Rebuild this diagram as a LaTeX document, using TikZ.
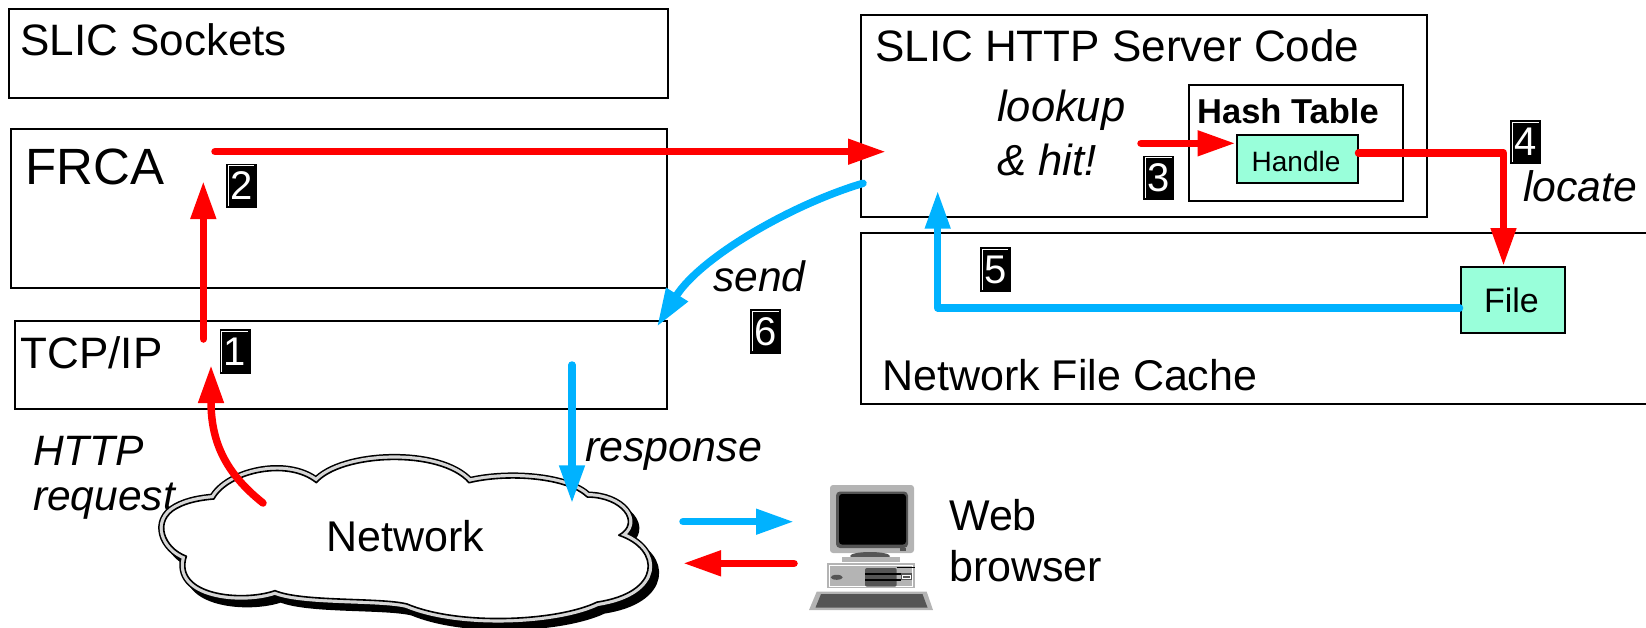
\documentclass[tikz,border=0pt]{standalone}
\usepackage{fontspec}
\setmainfont{Liberation Sans}
\usetikzlibrary{arrows.meta}

\definecolor{flowred}{RGB}{255,0,0}
\definecolor{flowblue}{RGB}{0,178,255}
\definecolor{mint}{RGB}{153,255,218}
\definecolor{pcgray}{RGB}{180,180,180}
\definecolor{pcdark}{RGB}{85,85,85}
\definecolor{cloudgray}{RGB}{214,214,214}

% numbered step marker: black block, white digit, thin white inner edge
\newcommand\numbadge[3]{%
  \node[badge] (#1) at (#2) {#3};
  \draw[white, line width=0.9pt]
    ([xshift=2.5pt,yshift=2.5pt]#1.south west) |- ([xshift=-2.5pt,yshift=-2.5pt]#1.north east);
}

\begin{document}
\begin{tikzpicture}[x=1pt, y=-1pt,
  box/.style={draw=black, line width=2pt, inner sep=0pt, anchor=north west},
  lbl/.style={anchor=base west, inner sep=0pt, font=\fontsize{42.5}{50}\selectfont},
  ilbl/.style={anchor=base west, inner sep=0pt, font=\fontsize{42.5}{50}\selectfont\itshape},
  badge/.style={fill=black, minimum width=31pt, minimum height=44.5pt, inner sep=0pt,
                text=white, font=\fontsize{40}{40}\selectfont},
  flow/.style={line width=7.5pt, line cap=round, line join=round,
               -{Triangle[length=38pt,width=24pt]}},
  fillbox/.style={box, fill=mint}
]
\useasboundingbox (0,0) rectangle (1646,627);

% ---------- left-hand stack ----------
\node[box, minimum width=659pt, minimum height=89pt] (sockets) at (7.6,8.3) {};
\node[lbl, font=\fontsize{44}{50}\selectfont] (socketsT) at (20,55) {SLIC Sockets};

\node[box, minimum width=656pt, minimum height=159pt] (frca) at (10,128) {};
\node[lbl, font=\fontsize{51}{60}\selectfont] (frcaT) at (25,184) {FRCA};

\node[box, minimum width=652pt, minimum height=87.5pt] (tcp) at (14,320) {};
\node[lbl, font=\fontsize{44}{50}\selectfont] (tcpT) at (20.5,368.3) {TCP/IP};

% ---------- server side ----------
\node[box, minimum width=566.5pt, minimum height=201.5pt] (server) at (859.5,14) {};
\node[lbl, font=\fontsize{44}{50}\selectfont] (serverT) at (875,61.7) {SLIC HTTP Server Code};
\node[ilbl, font=\fontsize{43.5}{50}\selectfont\itshape] (lookT) at (997,121) {lookup};
\node[ilbl, font=\fontsize{43.5}{50}\selectfont\itshape] (hitT) at (997,175) {\& hit!};

\node[box, minimum width=214pt, minimum height=116pt] (hash) at (1188,84) {};
\node[lbl, font=\fontsize{34.5}{40}\selectfont\bfseries] (hashT) at (1197,123.3) {Hash Table};
\node[fillbox, minimum width=121pt, minimum height=48.5pt] (handle) at (1235.5,133.5) {};
\node[font=\fontsize{28}{32}\selectfont, inner sep=0pt, anchor=base] (handleT) at (1296,171) {Handle};

\node[box, minimum width=800pt, minimum height=171pt] (cache) at (859.5,232) {};
\node[lbl, font=\fontsize{43}{50}\selectfont] (cacheT) at (882,390.7) {Network File Cache};
\node[fillbox, minimum width=104.5pt, minimum height=66pt] (file) at (1459.5,266) {};
\node[font=\fontsize{34}{40}\selectfont, inner sep=0pt, anchor=base] (fileT) at (1511.5,312.7) {File};
\node[ilbl, font=\fontsize{42.7}{50}\selectfont\itshape] (locateT) at (1523,201.7) {locate};

% ---------- free labels ----------
\node[ilbl] (httpT) at (33,465) {HTTP};
\node[ilbl] (reqT) at (33,510) {request};
\node[ilbl, font=\fontsize{43}{50}\selectfont\itshape] (respT) at (585,461.7) {response};
\node[ilbl] (sendT) at (713,291.7) {send};
\node[lbl, font=\fontsize{43}{50}\selectfont] (webT) at (949,530) {Web};
\node[lbl, font=\fontsize{43}{50}\selectfont] (browserT) at (949,581) {browser};

% ---------- network cloud ----------
\def\cloudpath{(173,507) .. controls (185,500) and (200,498) .. (211,497)
  .. controls (225,470) and (285,455) .. (315,480)
  .. controls (340,450) and (440,445) .. (470,480)
  .. controls (510,470) and (570,475) .. (590,495)
  .. controls (625,495) and (645,522) .. (622,535)
  .. controls (665,550) and (665,595) .. (600,605)
  .. controls (560,625) and (460,630) .. (407,607)
  .. controls (380,600) and (300,605) .. (273,593)
  .. controls (240,605) and (170,598) .. (183,557)
  .. controls (160,548) and (150,520) .. (173,507) -- cycle}
\begin{scope}[shift={(406,540)}, xscale=0.985, yscale=0.955, shift={(-406,-540)}]
  \begin{scope}[shift={(6,7)}]
    \filldraw[black, line width=10pt, line join=round] \cloudpath;
  \end{scope}
  \draw[black, line width=11pt, line join=round] \cloudpath;
  \draw[cloudgray, line width=8pt, line join=round] \cloudpath;
  \filldraw[fill=white, draw=black, line width=1.6pt, line join=round] \cloudpath;
\end{scope}
\node[lbl, font=\fontsize{43}{50}\selectfont] (netT) at (326,551.7) {Network};

% ---------- desktop computer ----------
\coordinate (pc) at (872,548);
\fill[pcgray, rounded corners=3pt] (830,485) rectangle (914,553);
\fill[pcdark, rounded corners=4pt] (836,491.5) rectangle (908,548);
\fill[black, rounded corners=3pt] (839,494) rectangle (906,544.5);
\fill[pcdark] (900,548.3) rectangle (906,550.6);
\fill[pcdark] (870,556) ellipse (20 and 4);
\fill[pcgray] (842,557) rectangle (900,561.7);
\fill[pcgray] (826.7,562.7) rectangle (915,588.3);
\draw[white, line width=1pt] (829,565) rectangle (912.5,586);
\fill[pcdark, rounded corners=2pt] (865,568) rectangle (896.7,586.7);
\draw[black, line width=1.6pt] (865,574) -- (901,574) (865,580) -- (901,580);
\draw[black, line width=1.6pt] (896.7,567.5) -- (915,567.5);
\fill[pcdark] (900.7,573.3) rectangle (911.7,580);
\draw[white, line width=0.7pt] (902.5,575) rectangle (910,578.5);
\fill[pcdark] (836.7,577.3) ellipse (6 and 2.5);
\fill[pcgray] (816.7,591.7) -- (926.7,591.7) -- (933,610) -- (809,610) -- cycle;
\fill[pcdark] (821,594) -- (922.5,594) -- (927.5,607.5) -- (815.5,607.5) -- cycle;

% ---------- step markers ----------
\numbadge{b1}{235,351.7}{1}
\numbadge{b2}{241.2,185.8}{2}
\numbadge{b3}{1158.5,177.8}{3}
\numbadge{b4}{1525.5,142}{4}
\numbadge{b5}{995.2,269.7}{5}
\numbadge{b6}{765.3,331.3}{6}

% ---------- request path (red) ----------
\coordinate (reqA) at (263,503);
\coordinate (reqB) at (211,365);
\draw[flow, flowred] (reqA) .. controls (224,472) and (211,440) .. (reqB);
\coordinate (upA) at (203.3,339);
\coordinate (upB) at (203.3,181);
\draw[flow, flowred] (upA) -- (upB);
\coordinate (toSrvA) at (215,151.7);
\coordinate (toSrvB) at (886,151.7);
\draw[flow, flowred] (toSrvA) -- (toSrvB);
\coordinate (lookA) at (1141,143.3);
\draw[flow, flowred] (lookA) -- (handle.west |- lookA);
\coordinate (locCorner) at (1503.5,153);
\draw[flow, flowred] (handle.east |- locCorner) -- (locCorner) -- (locCorner |- file.north);
\coordinate (pcRedA) at (794,563.3);
\coordinate (pcRedB) at (683,563.3);
\draw[flow, flowred] (pcRedA) -- (pcRedB);

% ---------- response path (blue) ----------
\coordinate (upCorner) at (937.7,308);
\coordinate (upTip) at (937.7,190.7);
\draw[flow, flowblue] (file.west |- upCorner) -- (upCorner) -- (upTip);
\coordinate (sendA) at (863,183.3);
\coordinate (sendB) at (657,326.7);
\draw[flow, flowblue] (sendA) .. controls (790,205) and (700,258) .. (sendB);
\coordinate (respA) at (572,365);
\coordinate (respB) at (572,503.3);
\draw[flow, flowblue] (respA) -- (respB);
\coordinate (pcBlueA) at (683,521.7);
\coordinate (pcBlueB) at (794,521.7);
\draw[flow, flowblue] (pcBlueA) -- (pcBlueB);
\end{tikzpicture}
\end{document}
